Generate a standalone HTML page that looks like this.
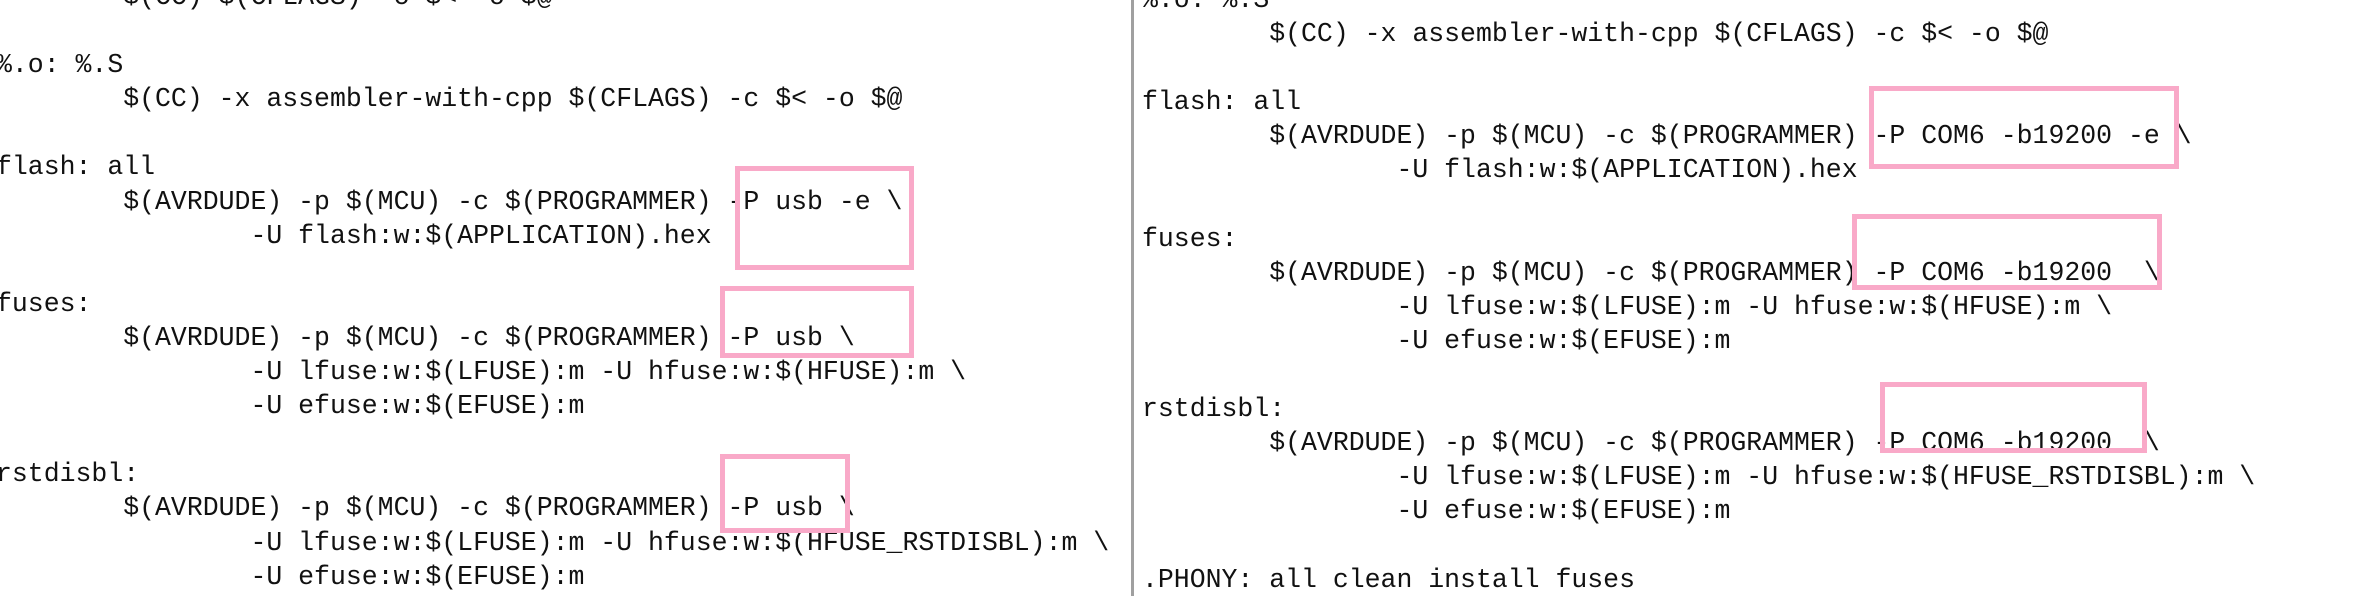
<!DOCTYPE html>
<html><head><meta charset="utf-8"><style>
html,body{margin:0;padding:0;background:#fff;width:2373px;height:596px;overflow:hidden;position:relative}
pre{position:absolute;margin:0;font-family:"Liberation Mono",monospace;font-size:26.5px;line-height:34.1px;color:#111;white-space:pre}
.box{position:absolute;border:5px solid #f9a9c8;box-sizing:border-box}
.div{position:absolute;left:1131px;top:0;width:3px;height:596px;background:#a0a0a0}
</style></head><body>
<pre style="left:-4px;top:-20px">        $(CC) $(CFLAGS) -c $&lt; -o $@

%.o: %.S
        $(CC) -x assembler-with-cpp $(CFLAGS) -c $&lt; -o $@

flash: all
        $(AVRDUDE) -p $(MCU) -c $(PROGRAMMER) -P usb -e \
                -U flash:w:$(APPLICATION).hex

fuses:
        $(AVRDUDE) -p $(MCU) -c $(PROGRAMMER) -P usb \
                -U lfuse:w:$(LFUSE):m -U hfuse:w:$(HFUSE):m \
                -U efuse:w:$(EFUSE):m

rstdisbl:
        $(AVRDUDE) -p $(MCU) -c $(PROGRAMMER) -P usb \
                -U lfuse:w:$(LFUSE):m -U hfuse:w:$(HFUSE_RSTDISBL):m \
                -U efuse:w:$(EFUSE):m</pre>
<div class="div"></div>
<pre style="left:1142px;top:-17px">%.o: %.S
        $(CC) -x assembler-with-cpp $(CFLAGS) -c $&lt; -o $@

flash: all
        $(AVRDUDE) -p $(MCU) -c $(PROGRAMMER) -P COM6 -b19200 -e \
                -U flash:w:$(APPLICATION).hex

fuses:
        $(AVRDUDE) -p $(MCU) -c $(PROGRAMMER) -P COM6 -b19200  \
                -U lfuse:w:$(LFUSE):m -U hfuse:w:$(HFUSE):m \
                -U efuse:w:$(EFUSE):m

rstdisbl:
        $(AVRDUDE) -p $(MCU) -c $(PROGRAMMER) -P COM6 -b19200  \
                -U lfuse:w:$(LFUSE):m -U hfuse:w:$(HFUSE_RSTDISBL):m \
                -U efuse:w:$(EFUSE):m

.PHONY: all clean install fuses</pre>
<div class="box" style="left:735px;top:166px;width:179px;height:104px"></div>
<div class="box" style="left:720px;top:286px;width:194px;height:72px"></div>
<div class="box" style="left:720px;top:454px;width:130px;height:79px"></div>
<div class="box" style="left:1869px;top:86px;width:310px;height:83px"></div>
<div class="box" style="left:1852px;top:214px;width:310px;height:76px"></div>
<div class="box" style="left:1880px;top:382px;width:267px;height:71px"></div>
</body></html>
